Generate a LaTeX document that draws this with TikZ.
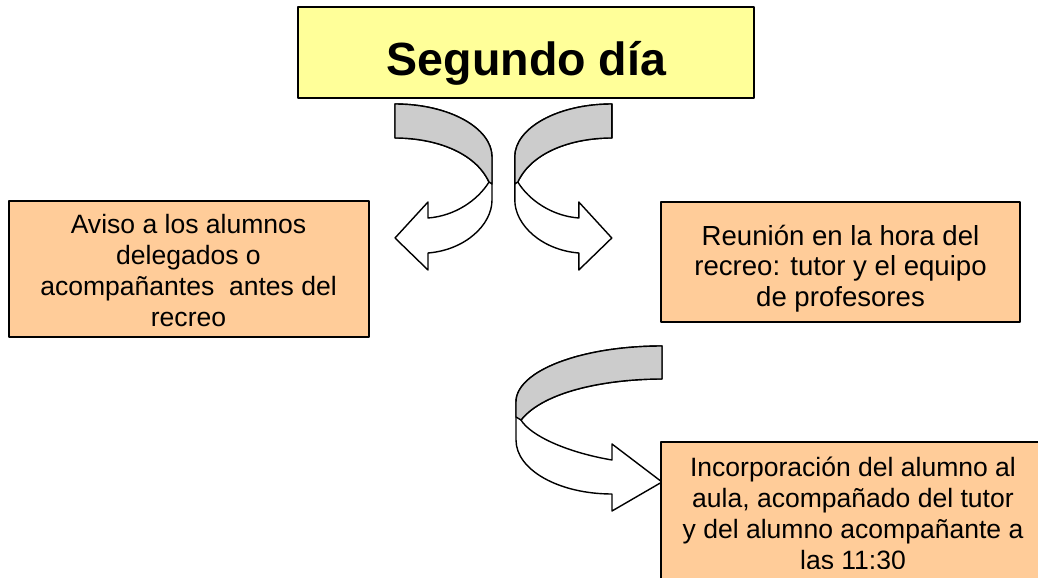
\documentclass[tikz,border=0pt]{standalone}
\usepackage{fontspec}
\setmainfont{Liberation Sans}

\definecolor{amarillo}{HTML}{FFFF99}
\definecolor{naranja}{HTML}{FFCC99}
\definecolor{gris}{HTML}{CCCCCC}

% cinta curva que apunta a la izquierda
\newcommand{\cinta}{%
  \filldraw[fill=white] (395,104) .. controls (449,104) and (492,128) .. (492,157) -- (492,200)
    .. controls (492,225) and (465,250) .. (428,253) -- (428,270) -- (395,238) -- (428,202) -- (428,218)
    .. controls (455,216) and (478,200) .. (489,182) .. controls (475,152) and (435,138) .. (395,138) -- cycle;
  \filldraw[fill=gris] (395,104) .. controls (449,104) and (492,128) .. (492,157) -- (492,184) -- (489,182)
    .. controls (475,152) and (435,138) .. (395,138) -- cycle;
}

\tikzset{
  caja/.style={draw, line width=1pt, fill=naranja, inner sep=0pt},
  texto/.style={align=center, inner sep=0pt, anchor=base},
}

\begin{document}
\begin{tikzpicture}[x=0.02cm, y=-0.02cm, line width=0.8pt, line join=round]
\useasboundingbox (0,0) rectangle (1038,578);
\clip (0,0) rectangle (1038,578);

% flechas
\cinta
\begin{scope}[xshift=20.14cm, xscale=-1]
  \cinta
\end{scope}

\filldraw[fill=white] (662,346) .. controls (581,346) and (516,371) .. (516,402) -- (516,440)
  .. controls (516,470) and (559,494) .. (612,494) -- (612,511) -- (662,482) -- (612,444) -- (612,460)
  .. controls (565,452) and (530,435) .. (521,420) .. controls (545,390) and (610,379) .. (662,379) -- cycle;
\filldraw[fill=gris] (662,346) .. controls (581,346) and (516,371) .. (516,402) -- (516,417) -- (521,420)
  .. controls (545,390) and (610,379) .. (662,379) -- cycle;

% titulo
\node[draw, line width=1.2pt, fill=amarillo, minimum width=9.12cm, minimum height=1.82cm] (titulo) at (526,52.5) {};
\node[texto, font=\fontsize{26.5pt}{30pt}\selectfont\bfseries] (tit) at (526.5,75) {Segundo día};

% cajas
\node[caja, minimum width=7.2cm, minimum height=2.72cm] (aviso) at (189,269) {};
\node[caja, minimum width=7.18cm, minimum height=2.4cm] (reunion) at (840.5,262) {};
\node[caja, minimum width=7.68cm, minimum height=3cm] (incorp) at (853,517) {};

% textos (anclados en la ultima linea, cortados como en el original)
\begin{scope}
  \clip (aviso.north west) rectangle (369,327);
  \node[texto, font=\fontsize{15.1pt}{17.6pt}\selectfont] (t1) at (188.5,326)
    {Aviso a los alumnos\\delegados o\\acompañantes~ antes del\\recreo};
\end{scope}
\node[texto, font=\fontsize{15.7pt}{17.5pt}\selectfont] (t2) at (840.5,306.6)
  {Reunión en la hora del\\recreo: tutor y el equipo\\de profesores};
\begin{scope}
  \clip (incorp.north west) rectangle (1038,568.5);
  \node[texto, font=\fontsize{15.1pt}{17.6pt}\selectfont] (t3) at (853,569.5)
    {Incorporación del alumno al\\aula, acompañado del tutor\\y del alumno acompañante a\\las 11:30};
\end{scope}
\end{tikzpicture}
\end{document}
